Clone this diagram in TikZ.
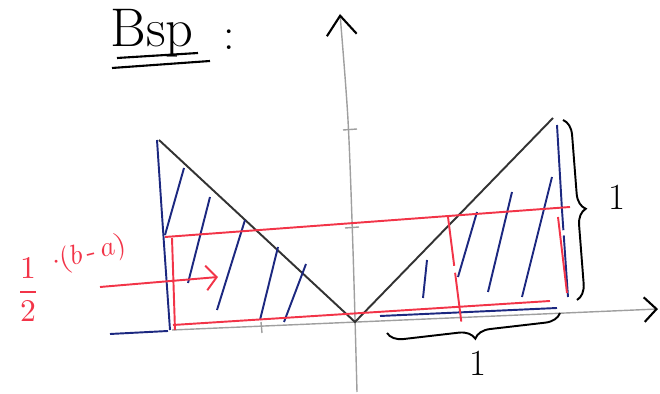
\documentclass[tikz,border=0pt]{standalone}
\usepackage{amsmath}
\usepackage{xcolor}
\usetikzlibrary{calc, positioning, arrows.meta, decorations.pathreplacing}
\definecolor{stiftblau}{RGB}{28,40,128}
\definecolor{stiftrot}{RGB}{242,52,72}

\begin{document}
\begin{tikzpicture}[>=latex, x=0.02cm, y=-0.02cm,
    achse/.style={gray!75, line width=0.8pt},
    graph/.style={black!80, line width=1.1pt},
    schraff/.style={stiftblau, line width=1.1pt},
    rot/.style={stiftrot, line width=1.1pt},
    klammer/.style={decorate, decoration={brace, amplitude=9pt}, line width=1.1pt}]
    \useasboundingbox (0,0) rectangle (660,394);

    % 1. Ueberschrift
    \node (titel) at (152,33) {\fontsize{31}{33}\selectfont Bsp};
    \node (punkt) at (229,40) {\fontsize{26}{28}\selectfont :};
    \draw[line width=1.2pt] (117,58) -- (198,53);
    \draw[line width=1.2pt] (112,68) -- (210,61);

    % 2. Koordinatenachsen
    \draw[achse, -{Straight Barb[length=11pt, width=17pt, color=black, line width=1.2pt]}]
        plot[smooth] coordinates {(357,392) (353,250) (348,120) (340,14)};
    \draw[achse, -{Straight Barb[length=7pt, width=14pt, color=black, line width=1.2pt]}]
        (172,330) -- (658,309);
    \draw[achse] (343,130) -- (357,129);
    \draw[achse] (345,228) -- (359,227);
    \draw[achse] (261,322) -- (262,333);
    \draw[schraff] (110,334) -- (168,331);
    \draw[schraff] (380,316) -- (557,308);

    % 3. Graph der Betragsfunktion
    \draw[graph] (159,140) -- (355,322) -- (553,118);
    \draw[schraff] (157,140) .. controls (163,230) .. (170,330);
    \draw[schraff, dash pattern=on 60pt off 3pt] (557,125) -- (562,210) -- (568,297);

    % 4. Schraffur
    \draw[schraff] (184,168) -- (165,235) (210,197) -- (188,283)
        (245,220) -- (217,310) (278,247) -- (260,320) (306,264) -- (284,322);
    \draw[schraff] (427,260) -- (423,298) (477,212) -- (458,277)
        (512,192) -- (488,292) (552,177) -- (522,297);

    % 5. Rechteck 1/2 (b-a)
    \draw[rot] (165,237) -- (570,207);
    \draw[rot] (173,325) -- (550,301);
    \draw[rot] (172,238) -- (175,330);
    \draw[rot] (558,217) -- (567,293);
    \draw[rot, dash pattern=on 28pt off 4pt] (448,217) -- (462,327);

    % 6. Beschriftung
    \node[text=stiftrot, inner sep=1pt] (faktor) at (28,290) {\scalebox{1.8}{$\dfrac{1}{2}$}};
    \node[text=stiftrot, rotate=14, inner sep=0pt] (intervall) at (89,254) {\scalebox{1.6}{$\cdot(b\,\text{-}\,a)$}};
    \coordinate (pfeilstart) at (100,287);
    \coordinate (pfeilziel) at (218,277);
    \draw[rot, -{Straight Barb[length=6pt, width=14pt]}] (pfeilstart) -- (pfeilziel);

    \coordinate (oben) at (563,120);
    \coordinate (unten) at (577,300);
    \draw[klammer] (oben) -- (unten);
    \node (hoehe) at (617,197) {\fontsize{21}{24}\selectfont 1};
    \coordinate (rechts) at (560,313);
    \coordinate (links) at (387,333);
    \draw[klammer] (rechts) -- (links);
    \node (breite) at (478,363) {\fontsize{21}{24}\selectfont 1};
\end{tikzpicture}
\end{document}
